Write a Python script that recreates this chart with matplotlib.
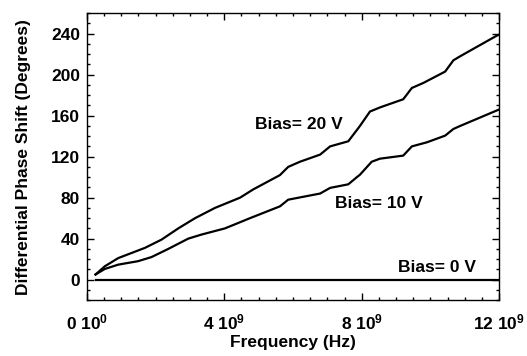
import matplotlib.pyplot as plt
from matplotlib.ticker import FixedLocator, FixedFormatter, MultipleLocator
import numpy as np

plt.rcParams['font.family'] = ['Liberation Sans', 'DejaVu Sans']
plt.rcParams['font.weight'] = 'bold'
plt.rcParams['mathtext.default'] = 'regular'

# frequency in GHz, phase in degrees
freq20 = [0.25, 0.52, 0.91, 1.69, 2.17, 2.66, 3.15, 3.73, 4.46, 4.84, 5.62, 5.86, 6.2, 6.79,
          7.08, 7.61, 7.86, 7.95, 8.24, 8.53, 9.21, 9.46, 9.8, 10.43, 10.67, 10.87, 11.93, 12.0]
phase20 = [5, 13, 21, 31, 39, 50, 60, 70, 80, 88, 102, 110, 115, 122,
           130, 135, 146, 150, 164, 168, 176, 187, 192, 203, 214, 218, 238, 239]

freq10 = [0.25, 0.52, 0.91, 1.49, 1.88, 2.37, 2.95, 3.34, 4.02, 4.75, 5.62, 5.86, 6.79, 7.08,
          7.61, 7.86, 7.95, 8.29, 8.53, 9.21, 9.46, 9.9, 10.43, 10.67, 10.87, 11.93, 12.0]
phase10 = [5, 10.4, 14.6, 18, 22, 30, 40, 44, 50, 60, 71.5, 78, 84, 89.5,
           93, 100, 102.4, 115, 118, 121, 130, 134, 140.5, 147, 150, 165, 166]

freq0 = [0.25, 12.0]
phase0 = [0, 0]

xticks = [0, 4e9, 8e9, 12e9]
xticklabels = ['0 10$^{0}$', '4 10$^{9}$', '8 10$^{9}$', '12 10$^{9}$']
yticks = [0, 40, 80, 120, 160, 200, 240]

fig = plt.figure(figsize=(5.27, 3.56), dpi=100)
ax = fig.add_axes([0.165, 0.157, 0.782, 0.806])

ax.plot(np.array(freq20) * 1e9, phase20, color='black', lw=1.6)
ax.plot(np.array(freq10) * 1e9, phase10, color='black', lw=1.6)
ax.plot(np.array(freq0) * 1e9, phase0, color='black', lw=1.6)

ax.text(4.89e9, 151, 'Bias= 20 V', fontsize=12.5, fontweight='bold', va='center')
ax.text(7.22e9, 74, 'Bias= 10 V', fontsize=12.5, fontweight='bold', va='center')
ax.text(9.06e9, 11.7, 'Bias= 0 V', fontsize=12.5, fontweight='bold', va='center')

ax.set_xlim(0, 12e9)
ax.set_ylim(-20, 260)
ax.xaxis.set_major_locator(FixedLocator(xticks))
ax.xaxis.set_major_formatter(FixedFormatter(xticklabels))
ax.xaxis.set_minor_locator(MultipleLocator(0.5e9))
ax.yaxis.set_major_locator(FixedLocator(yticks))
ax.yaxis.set_minor_locator(MultipleLocator(10))
ax.tick_params(which='both', direction='in', top=True, right=True, labelsize=12.5, width=1)
ax.tick_params(which='major', length=5)
ax.tick_params(which='minor', length=2.5)
ax.tick_params(axis='x', pad=9)
ax.tick_params(axis='y', pad=5)
for s in ax.spines.values():
    s.set_linewidth(1)

ax.set_xlabel('Frequency (Hz)', fontsize=12.5, fontweight='bold', labelpad=2)
ax.set_ylabel('Differential Phase Shift (Degrees)', fontsize=12.5, fontweight='bold', labelpad=14)

fig.savefig('out.png', dpi=100)
